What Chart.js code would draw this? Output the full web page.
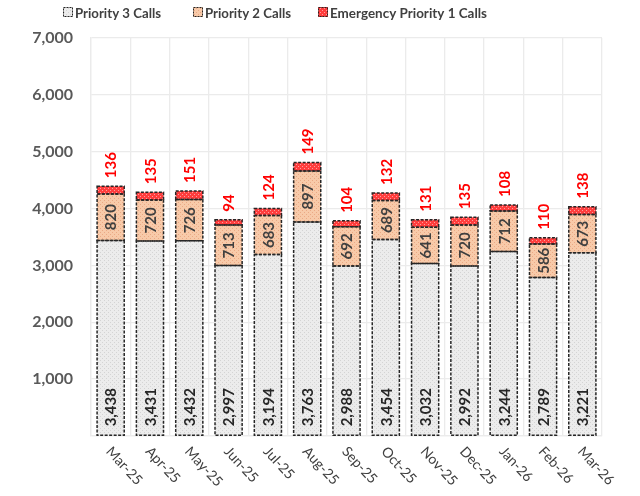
<!DOCTYPE html>
<html><head><meta charset="utf-8">
<script src="https://cdn.jsdelivr.net/npm/chart.js@4"></script>
<style>html,body{margin:0;padding:0;background:#fff}#wrap{width:640px;height:496px}</style>
</head><body><div id="wrap"><canvas id="c" width="640" height="496"></canvas></div>
<script>
const categories = ['Mar-25','Apr-25','May-25','Jun-25','Jul-25','Aug-25','Sep-25','Oct-25','Nov-25','Dec-25','Jan-26','Feb-26','Mar-26'];
const priority3 = [3438,3431,3432,2997,3194,3763,2988,3454,3032,2992,3244,2789,3221];
const priority2 = [820,720,726,713,683,897,692,689,641,720,712,586,673];
const priority1 = [136,135,151,94,124,149,104,132,131,135,108,110,138];
const seriesNames = ['Priority 3 Calls','Priority 2 Calls','Emergency Priority 1 Calls'];
const yTicks = [0,1000,2000,3000,4000,5000,6000,7000];

const FONT = 'Lato, "Liberation Sans", sans-serif';

function pattern(bg, dot){
  const c = document.createElement('canvas'); c.width = 4; c.height = 4;
  const g = c.getContext('2d');
  g.fillStyle = bg; g.fillRect(0,0,4,4);
  g.fillStyle = dot; g.fillRect(0,0,1,1); g.fillRect(2,2,1,1);
  return g.createPattern(c, 'repeat');
}
const fills = [pattern('#ececec','#d4d4d4'), pattern('#f8caa9','#eaa985'), pattern('#ff3d3d','#ff9c9c')];

function fmt(v){ return v.toLocaleString('en-US'); }

const dashedBorders = {
  id:'dashedBorders',
  afterDatasetsDraw(chart){
    const ctx = chart.ctx;
    ctx.save();
    ctx.strokeStyle = '#262626'; ctx.lineWidth = 1.5; ctx.setLineDash([3,1.5]);
    chart.data.datasets.forEach((ds,di)=>{
      chart.getDatasetMeta(di).data.forEach(el=>{
        const p = el.getProps(['x','y','base','width'], true);
        ctx.strokeRect(p.x - p.width/2, Math.min(p.y,p.base), p.width, Math.abs(p.base - p.y));
      });
    });
    ctx.restore();
  }
};

const labelsPlugin = {
  id:'labelsPlugin',
  afterDatasetsDraw(chart){
    const ctx = chart.ctx;
    ctx.save();
    ctx.font = 'bold 15px ' + FONT;
    ctx.textBaseline = 'middle';
    chart.data.datasets.forEach((ds,di)=>{
      chart.getDatasetMeta(di).data.forEach((el,i)=>{
        const p = el.getProps(['x','y','base'], true);
        const txt = fmt(ds.data[i]);
        ctx.save();
        let y, align;
        if (di === 0){ y = p.base - 9; align = 'left'; ctx.fillStyle = '#262626'; }
        else if (di === 1){ y = (p.y + p.base)/2; align = 'center'; ctx.fillStyle = '#404040'; }
        else { y = p.y - 8; align = 'left'; ctx.fillStyle = '#ff0000'; }
        ctx.translate(p.x + 1, y);
        ctx.rotate(-Math.PI/2);
        ctx.textAlign = align;
        ctx.fillText(txt, 0, 0);
        ctx.restore();
      });
    });
    ctx.restore();
  }
};

const xLabels = {
  id:'xLabels',
  afterDraw(chart){
    const ctx = chart.ctx, sx = chart.scales.x;
    ctx.save();
    ctx.font = '14px ' + FONT;
    ctx.fillStyle = '#404040';
    ctx.textAlign = 'left'; ctx.textBaseline = 'middle';
    categories.forEach((c,i)=>{
      const x = sx.getPixelForValue(i);
      ctx.save();
      ctx.translate(x - 2, chart.chartArea.bottom + 13);
      ctx.rotate(Math.PI/4 + 0.04);
      ctx.fillText(c, 0, 0);
      ctx.restore();
    });
    ctx.restore();
  }
};

const legendPlugin = {
  id:'legendPlugin',
  afterDraw(chart){
    const ctx = chart.ctx;
    ctx.save();
    ctx.font = 'bold 14px ' + FONT;
    ctx.textBaseline = 'middle';
    ctx.textAlign = 'left';
    const starts = [63,193,318];
    const widths = [86,86,157];
    seriesNames.forEach((n,i)=>{
      const x = starts[i], y = 12;
      ctx.fillStyle = fills[i];
      ctx.fillRect(x, y-5, 10, 10);
      ctx.strokeStyle = '#262626'; ctx.lineWidth = 1; ctx.setLineDash([2,1]);
      ctx.strokeRect(x+0.5, y-4.5, 9, 9);
      ctx.setLineDash([]);
      ctx.fillStyle = '#404040';
      ctx.fillText(n, x + 12, y + 1, widths[i]);
    });
    ctx.restore();
  }
};

new Chart(document.getElementById('c'), {
  type:'bar',
  data:{
    labels: categories,
    datasets:[
      {label:seriesNames[0], data:priority3, backgroundColor:fills[0], borderWidth:0},
      {label:seriesNames[1], data:priority2, backgroundColor:fills[1], borderWidth:0},
      {label:seriesNames[2], data:priority1, backgroundColor:fills[2], borderWidth:0}
    ]
  },
  options:{
    responsive:false, animation:false,
    devicePixelRatio:1,
    layout:{padding:{top:38, right:38, left:0, bottom:0}},
    datasets:{bar:{categoryPercentage:1, barPercentage:0.69}},
    plugins:{legend:{display:false}, tooltip:{enabled:false}},
    scales:{
      x:{stacked:true,
         grid:{color:'#ebebeb', lineWidth:1.3, offset:true, drawTicks:false},
         border:{color:'#ebebeb', width:1.3},
         ticks:{display:false},
         afterFit(s){ s.height = 60; }
      },
      y:{stacked:true, min:0, max:7000,
         afterBuildTicks(s){ s.ticks = yTicks.map(v=>({value:v})); },
         grid:{color:'#ebebeb', lineWidth:1.3, drawTicks:false},
         border:{color:'#ebebeb', width:1.3},
         ticks:{padding:18, color:'#595959', font:{family:FONT, size:16, weight:'bold'},
                callback:(v)=> v === 0 ? '' : fmt(v)},
         afterFit(s){ s.width = 91; }
      }
    }
  },
  plugins:[dashedBorders, labelsPlugin, xLabels, legendPlugin]
});
</script>
</body></html>
